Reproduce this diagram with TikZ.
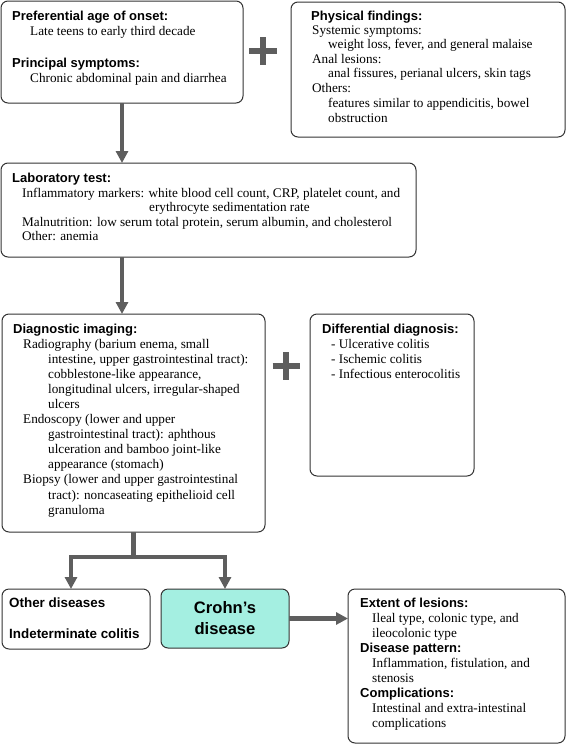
\documentclass[tikz,border=0pt]{standalone}
\usepackage{fontspec}
\setmainfont{Liberation Serif}
\newfontfamily\hdfont{Liberation Sans}
\usetikzlibrary{arrows.meta}
\definecolor{arrgray}{HTML}{5E5E5E}
\definecolor{crohnfill}{HTML}{A4EFE1}
\definecolor{boxline}{HTML}{333333}
\begin{document}
\begin{tikzpicture}[x=1pt,y=-1pt,
  box/.style={draw=boxline, line width=1pt, rounded corners=7pt, anchor=north west, inner sep=0pt, outer sep=0pt},
  hd/.style={anchor=base west, inner sep=0pt, font=\hdfont\bfseries\fontsize{13}{15}\selectfont},
  hdb/.style={anchor=base west, inner sep=0pt, font=\hdfont\bfseries\fontsize{13.4}{15}\selectfont},
  bd/.style={anchor=base west, inner sep=0pt, font=\fontsize{13.2}{15}\selectfont},
  arr/.style={draw=arrgray, line width=4.3pt, -{Triangle[width=12pt,length=12pt]}},
  plus/.style={draw=arrgray, line width=5.5pt}]
\useasboundingbox (0,0) rectangle (568,745);

% boxes
\node[box, minimum width=242pt, minimum height=102pt] (b1) at (1,1) {};
\node[box, minimum width=274pt, minimum height=135pt] (b2) at (291,2) {};
\node[box, minimum width=415pt, minimum height=94pt] (lab) at (1,163) {};
\node[box, minimum width=263pt, minimum height=218pt] (diag) at (2,314) {};
\node[box, minimum width=164pt, minimum height=162pt] (diff) at (310,314) {};
\node[box, minimum width=148pt, minimum height=60pt] (other) at (2,589) {};
\node[box, fill=crohnfill, minimum width=128pt, minimum height=59pt, align=center,
      font=\hdfont\bfseries\fontsize{16.6}{21}\selectfont] (crohn) at (161,589) {Crohn’s\\disease};
\node[box, minimum width=217pt, minimum height=154pt] (ext) at (348,589) {};

% plus signs
\draw[plus] (249,51) -- (277,51);
\draw[plus] (263,37) -- (263,65);
\draw[plus] (272.5,366) -- (299.5,366);
\draw[plus] (286,352) -- (286,380);

% connectors
\draw[arr] (b1.south) -- (b1.south |- lab.north);
\draw[arr] (b1.south |- lab.south) -- (b1.south |- diag.north);
\path (diag.south) ++(0,25) coordinate (j);
\draw[arr] (diag.south) -- (j) -| ([xshift=-5pt]other.north);
\draw[arr] (j) -| (crohn.north);
\draw[arr] (crohn.east) -- (crohn.east -| ext.west);

% box 1 text
\node[hd] (t11) at (12,20) {Preferential age of onset:};
\node[bd] (t12) at (30,35) {Late teens to early third decade};
\node[hd] (t13) at (12,67) {Principal symptoms:};
\node[bd] (t14) at (30,82) {Chronic abdominal pain and diarrhea};

% box 2 text
\node[hd] (t21) at (311,20.5) {Physical findings:};
\node[bd] (t22) at (312,34) {Systemic symptoms:};
\node[bd] (t23) at (328,48.5) {weight loss, fever, and general malaise};
\node[bd] (t24) at (312,63) {Anal lesions:};
\node[bd] (t25) at (328,77.5) {anal fissures, perianal ulcers, skin tags};
\node[bd] (t26) at (312,92) {Others:};
\node[bd] (t27) at (328,107) {features similar to appendicitis, bowel};
\node[bd] (t28) at (328,122) {obstruction};

% lab text
\node[hd] (t31) at (12,182) {Laboratory test:};
\node[bd] (t32) at (22,197) {Inflammatory markers: white blood cell count, CRP, platelet count, and};
\node[bd] (t33) at (149,211) {erythrocyte sedimentation rate};
\node[bd] (t34) at (22,226) {Malnutrition: low serum total protein, serum albumin, and cholesterol};
\node[bd] (t35) at (22,240) {Other: anemia};

% diagnostic imaging text
\node[hd] (t41) at (13,333) {Diagnostic imaging:};
\node[bd] (t42) at (23,348) {Radiography (barium enema, small};
\node[bd] (t43) at (48,363.1) {intestine, upper gastrointestinal tract):};
\node[bd] (t44) at (48,378.2) {cobblestone-like appearance,};
\node[bd] (t45) at (48,393.3) {longitudinal ulcers, irregular-shaped};
\node[bd] (t46) at (48,408.4) {ulcers};
\node[bd] (t47) at (23,423.5) {Endoscopy (lower and upper};
\node[bd] (t48) at (48,438.6) {gastrointestinal tract): aphthous};
\node[bd] (t49) at (48,453.7) {ulceration and bamboo joint-like};
\node[bd] (t4a) at (48,468.8) {appearance (stomach)};
\node[bd] (t4b) at (23,483.9) {Biopsy (lower and upper gastrointestinal};
\node[bd] (t4c) at (48,499) {tract): noncaseating epithelioid cell};
\node[bd] (t4d) at (48,514.1) {granuloma};

% differential text
\node[hd] (t51) at (322,333) {Differential diagnosis:};
\node[bd] (t52) at (331,348) {- Ulcerative colitis};
\node[bd] (t53) at (331,363) {- Ischemic colitis};
\node[bd] (t54) at (331,378) {- Infectious enterocolitis};

% other diseases text
\node[hdb] (t61) at (9,607) {Other diseases};
\node[hdb] (t62) at (9,638) {Indeterminate colitis};

% extent text
\node[hd] (t81) at (360,607) {Extent of lesions:};
\node[bd] (t82) at (372,622) {Ileal type, colonic type, and};
\node[bd] (t83) at (372,637) {ileocolonic type};
\node[hd] (t84) at (360,652) {Disease pattern:};
\node[bd] (t85) at (372,667) {Inflammation, fistulation, and};
\node[bd] (t86) at (372,682) {stenosis};
\node[hd] (t87) at (360,697) {Complications:};
\node[bd] (t88) at (372,712) {Intestinal and extra-intestinal};
\node[bd] (t89) at (372,727) {complications};
\end{tikzpicture}
\end{document}
